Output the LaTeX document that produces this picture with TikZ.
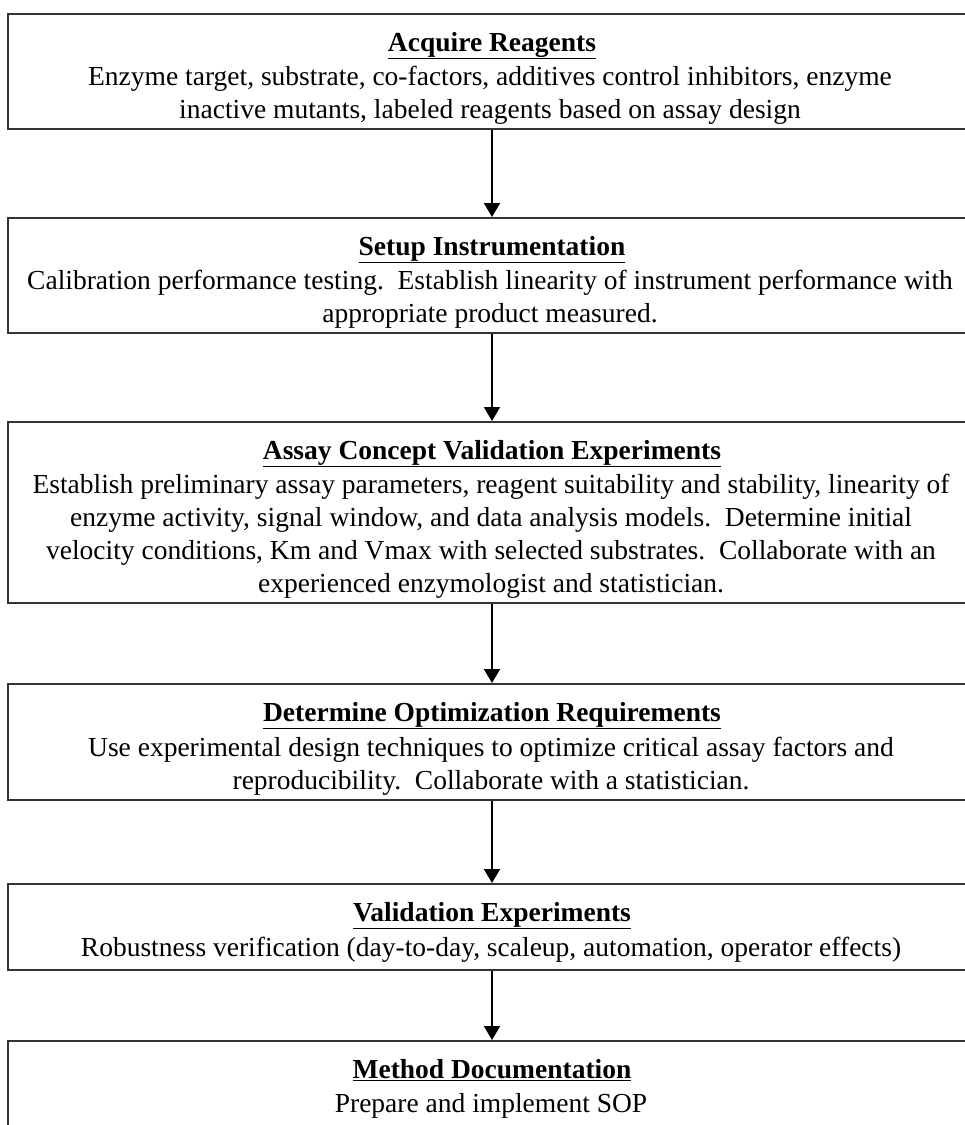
\documentclass[tikz,border=0pt]{standalone}
\usepackage{fontspec}
\setmainfont{Liberation Serif}
\usetikzlibrary{arrows.meta}
\begin{document}
\begin{tikzpicture}[x=1pt,y=-1pt,
  stagebox/.style={draw=black!80, line width=2pt, rectangle, inner sep=0pt,
    minimum width=968pt},
  headline/.style={anchor=base, inner sep=0pt, font=\fontsize{27.5}{33}\selectfont\bfseries},
  bodyline/.style={anchor=base, inner sep=0pt, font=\fontsize{27.5}{33}\selectfont},
  flow/.style={line width=2pt, -{Triangle[width=16pt,length=14pt]}}]
\clip (0,0) rectangle (965,1125);
\fill[white] (0,0) rectangle (965,1125);

% stage frames (centre x = 492)
\node[stagebox, minimum height=115pt] (s1) at (492,71.5) {};
\node[stagebox, minimum height=115pt] (s2) at (492,275.5) {};
\node[stagebox, minimum height=181pt] (s3) at (492,512.5) {};
\node[stagebox, minimum height=116pt] (s4) at (492,742) {};
\node[stagebox, minimum height=86pt]  (s5) at (492,927) {};
\node[stagebox, minimum height=120pt] (s6) at (492,1101) {};

% stage 1
\node[headline] (t1) at (492,51) {\underline{Acquire Reagents}};
\node[bodyline] (t1a) at (490,85) {Enzyme target, substrate, co-factors, additives control inhibitors, enzyme};
\node[bodyline] (t1b) at (490,118) {inactive mutants, labeled reagents based on assay design};

% stage 2
\node[headline] (t2) at (492,255) {\underline{Setup Instrumentation}};
\node[bodyline] (t2a) at (490,289) {Calibration performance testing.~~Establish linearity of instrument performance with};
\node[bodyline] (t2b) at (490,322) {appropriate product measured.};

% stage 3
\node[headline] (t3) at (492,459) {\underline{Assay Concept Validation Experiments}};
\node[bodyline] (t3a) at (491,493) {Establish preliminary assay parameters, reagent suitability and stability, linearity of};
\node[bodyline] (t3b) at (491,526) {enzyme activity, signal window, and data analysis models.~~Determine initial};
\node[bodyline] (t3c) at (491,559) {velocity conditions, Km and Vmax with selected substrates.~~Collaborate with an};
\node[bodyline] (t3d) at (491,592) {experienced enzymologist and statistician.};

% stage 4
\node[headline] (t4) at (492,721) {\underline{Determine Optimization Requirements}};
\node[bodyline] (t4a) at (491,756) {Use experimental design techniques to optimize critical assay factors and};
\node[bodyline] (t4b) at (491,789) {reproducibility.~~Collaborate with a statistician.};

% stage 5
\node[headline] (t5) at (492,921) {\underline{Validation Experiments}};
\node[bodyline] (t5a) at (491,956) {Robustness verification (day-to-day, scaleup, automation, operator effects)};

% stage 6
\node[headline] (t6) at (492,1078) {\underline{Method Documentation}};
\node[bodyline] (t6a) at (491,1112) {Prepare and implement SOP};

% connectors
\draw[flow] (s1) -- (s2);
\draw[flow] (s2) -- (s3);
\draw[flow] (s3) -- (s4);
\draw[flow] (s4) -- (s5);
\draw[flow] (s5) -- (s6);
\end{tikzpicture}
\end{document}
